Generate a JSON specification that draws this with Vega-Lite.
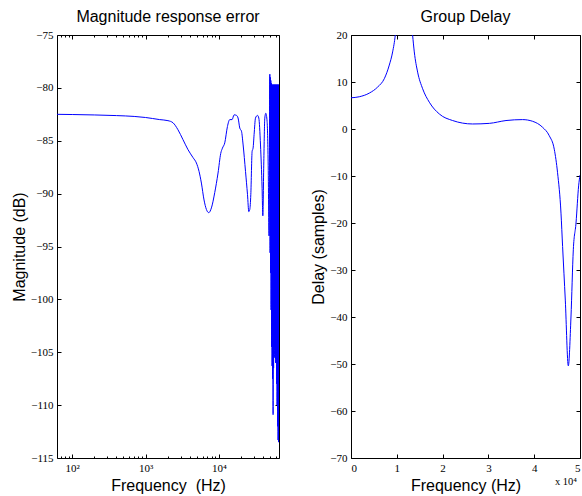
{
  "$schema": "https://vega.github.io/schema/vega-lite/v6.json",
  "padding": {"left": 10, "top": 8, "right": 0, "bottom": 0},
  "spacing": 30,
  "config": {
    "view": {"stroke": "#000000", "strokeWidth": 1},
    "title": {"font": "Liberation Sans", "fontSize": 16, "fontWeight": "normal", "color": "#000000", "offset": 4},
    "axis": {
      "domain": false, "grid": false,
      "labelFont": "Liberation Serif", "labelFontSize": 11, "labelColor": "#000000",
      "titleFont": "Liberation Sans", "titleFontSize": 16, "titleFontWeight": "normal", "titleColor": "#000000",
      "tickColor": "#000000", "tickWidth": 1, "tickSize": -4, "labelPadding": 8
    }
  },
  "datasets": {
    "mag": [
      {"f": 62, "db": -82.5}, {"f": 100, "db": -82.52}, {"f": 200, "db": -82.56}, {"f": 400, "db": -82.62},
      {"f": 700, "db": -82.7}, {"f": 1000, "db": -82.8}, {"f": 1560, "db": -83.0}, {"f": 2023, "db": -83.1},
      {"f": 2370, "db": -83.3}, {"f": 2770, "db": -83.96}, {"f": 3245, "db": -84.9}, {"f": 3800, "db": -85.85},
      {"f": 4450, "db": -86.6}, {"f": 4940, "db": -87.1}, {"f": 5370, "db": -87.9}, {"f": 5780, "db": -89.0},
      {"f": 6280, "db": -90.6}, {"f": 6770, "db": -91.5}, {"f": 7280, "db": -91.8}, {"f": 7920, "db": -91.35},
      {"f": 8790, "db": -89.9}, {"f": 9750, "db": -88.05}, {"f": 10610, "db": -86.2}, {"f": 11190, "db": -85.7},
      {"f": 12040, "db": -85.2}, {"f": 13100, "db": -83.65}, {"f": 14090, "db": -83.0}, {"f": 15150, "db": -83.0},
      {"f": 16140, "db": -82.55}, {"f": 17380, "db": -82.6}, {"f": 18290, "db": -82.85}, {"f": 19300, "db": -83.8},
      {"f": 20360, "db": -84.1}, {"f": 21440, "db": -85.4}, {"f": 23110, "db": -87.9}, {"f": 24600, "db": -90.1},
      {"f": 25630, "db": -91.7}, {"f": 26430, "db": -91.5}, {"f": 27290, "db": -90.1}, {"f": 28440, "db": -86.0},
      {"f": 29310, "db": -85.7}, {"f": 30270, "db": -84.4}, {"f": 31620, "db": -82.85}, {"f": 33650, "db": -82.6},
      {"f": 35070, "db": -82.85}, {"f": 37000, "db": -85.4}, {"f": 38900, "db": -89.5}, {"f": 39810, "db": -92.1},
      {"f": 41040, "db": -87.0}, {"f": 42360, "db": -82.85}, {"f": 43720, "db": -82.4}, {"f": 45550, "db": -83.2},
      {"f": 47030, "db": -87.0}, {"f": 48400, "db": -94.0},
      {"f": 49600, "db": -78.7}, {"f": 49990, "db": -95.6}, {"f": 50390, "db": -79.0}, {"f": 50790, "db": -97.5},
      {"f": 51180, "db": -79.3}, {"f": 51590, "db": -101.0}, {"f": 52000, "db": -79.55}, {"f": 52410, "db": -104.5},
      {"f": 52810, "db": -79.7}, {"f": 53230, "db": -106.3}, {"f": 53650, "db": -79.7}, {"f": 54080, "db": -107.5},
      {"f": 54510, "db": -79.7}, {"f": 54940, "db": -110.9}, {"f": 55380, "db": -79.7}, {"f": 55810, "db": -106.5},
      {"f": 56250, "db": -79.7}, {"f": 56700, "db": -104.5}, {"f": 57150, "db": -79.7}, {"f": 57600, "db": -105.5},
      {"f": 58040, "db": -79.7}, {"f": 58500, "db": -104.4}, {"f": 58970, "db": -79.7}, {"f": 59430, "db": -106.0},
      {"f": 59890, "db": -79.7}, {"f": 60370, "db": -105.0}, {"f": 60850, "db": -79.7}, {"f": 61330, "db": -108.0},
      {"f": 61800, "db": -79.7}, {"f": 62290, "db": -110.0}, {"f": 62780, "db": -79.7}, {"f": 63270, "db": -112.0},
      {"f": 63770, "db": -79.7}, {"f": 64270, "db": -113.3}, {"f": 64770, "db": -79.7}, {"f": 65280, "db": -113.5},
      {"f": 65800, "db": -79.7}, {"f": 66320, "db": -113.0}
    ],
    "gd": [
      {"f": 0, "d": 6.64}, {"f": 1810, "d": 6.86}, {"f": 4000, "d": 7.64}, {"f": 5820, "d": 8.93},
      {"f": 7270, "d": 10.7}, {"f": 8360, "d": 13.6}, {"f": 9090, "d": 16.4}, {"f": 9670, "d": 20},
      {"f": 10200, "d": 26}, {"f": 10800, "d": 36}, {"f": 11400, "d": 45}, {"f": 12000, "d": 40},
      {"f": 12600, "d": 30}, {"f": 13100, "d": 24}, {"f": 13450, "d": 20}, {"f": 13820, "d": 16.4},
      {"f": 14550, "d": 12.1}, {"f": 15640, "d": 8.57}, {"f": 17100, "d": 5.7}, {"f": 19280, "d": 3.2},
      {"f": 22190, "d": 1.8}, {"f": 26550, "d": 1.07}, {"f": 30200, "d": 1.2}, {"f": 33840, "d": 1.8},
      {"f": 37470, "d": 2.0}, {"f": 39650, "d": 1.64}, {"f": 41830, "d": 0.36}, {"f": 43290, "d": -1.43},
      {"f": 44380, "d": -4.3}, {"f": 45100, "d": -9.3}, {"f": 45850, "d": -17.9}, {"f": 46200, "d": -25},
      {"f": 46790, "d": -36.4}, {"f": 47450, "d": -50.4}, {"f": 48030, "d": -40}, {"f": 48540, "d": -25.7},
      {"f": 49130, "d": -20}, {"f": 49700, "d": -12.1}, {"f": 50000, "d": -9.8}
    ],
    "note": [{"t": "x 10⁴"}]
  },
  "hconcat": [
    {
      "width": 222, "height": 423,
      "title": {"text": "Magnitude response error"},
      "data": {"name": "mag"},
      "layer": [
        {
          "mark": {"type": "line", "color": "#0000ff", "strokeWidth": 1, "clip": true, "interpolate": "monotone"},
          "encoding": {
            "x": {"field": "f", "type": "quantitative",
              "scale": {"type": "log", "domain": [62, 66150], "nice": false},
              "axis": {"orient": "bottom", "title": "Frequency \u00a0(Hz)",
                "values": [70, 80, 90, 100, 200, 300, 400, 500, 600, 700, 800, 900, 1000, 2000, 3000, 4000, 5000, 6000, 7000, 8000, 9000, 10000, 20000, 30000, 40000, 50000, 60000],
                "labelExpr": "datum.value == 100 ? '10²' : datum.value == 1000 ? '10³' : datum.value == 10000 ? '10⁴' : ''",
                "tickSize": {"condition": {"test": "datum.value == 100 || datum.value == 1000 || datum.value == 10000", "value": -4}, "value": -2}}},
            "y": {"field": "db", "type": "quantitative",
              "scale": {"domain": [-115, -75], "nice": false, "zero": false},
              "axis": {"orient": "left", "title": "Magnitude (dB)", "values": [-115, -110, -105, -100, -95, -90, -85, -80, -75], "titlePadding": 3}}
          }
        },
        {
          "mark": {"type": "line", "opacity": 0, "clip": true},
          "encoding": {
            "x": {"field": "f", "type": "quantitative",
              "axis": {"orient": "top", "title": null, "labels": false,
                "values": [70, 80, 90, 100, 200, 300, 400, 500, 600, 700, 800, 900, 1000, 2000, 3000, 4000, 5000, 6000, 7000, 8000, 9000, 10000, 20000, 30000, 40000, 50000, 60000],
                "tickSize": {"condition": {"test": "datum.value == 100 || datum.value == 1000 || datum.value == 10000", "value": -4}, "value": -2}}},
            "y": {"field": "db", "type": "quantitative",
              "axis": {"orient": "right", "title": null, "labels": false, "values": [-115, -110, -105, -100, -95, -90, -85, -80, -75]}}
          }
        }
      ],
      "resolve": {"axis": {"x": "independent", "y": "independent"}}
    },
    {
      "width": 229, "height": 423,
      "title": {"text": "Group Delay"},
      "layer": [
        {
          "data": {"name": "gd"},
          "mark": {"type": "line", "color": "#0000ff", "strokeWidth": 1, "clip": true, "interpolate": "monotone"},
          "encoding": {
            "x": {"field": "f", "type": "quantitative",
              "scale": {"domain": [0, 50000], "nice": false},
              "axis": {"orient": "bottom", "title": "Frequency (Hz)", "values": [0, 10000, 20000, 30000, 40000, 50000],
                "labelExpr": "format(datum.value / 10000, 'd')"}},
            "y": {"field": "d", "type": "quantitative",
              "scale": {"domain": [-70, 20], "nice": false, "zero": false},
              "axis": {"orient": "left", "title": "Delay (samples)", "values": [-70, -60, -50, -40, -30, -20, -10, 0, 10, 20], "titlePadding": 3}}
          }
        },
        {
          "data": {"name": "gd"},
          "mark": {"type": "line", "opacity": 0, "clip": true},
          "encoding": {
            "x": {"field": "f", "type": "quantitative",
              "axis": {"orient": "top", "title": null, "labels": false, "values": [0, 10000, 20000, 30000, 40000, 50000]}},
            "y": {"field": "d", "type": "quantitative",
              "axis": {"orient": "right", "title": null, "labels": false, "values": [-70, -60, -50, -40, -30, -20, -10, 0, 10, 20]}}
          }
        },
        {
          "data": {"name": "note"},
          "mark": {"type": "text", "font": "Liberation Serif", "fontSize": 10.5, "align": "right", "baseline": "top", "dy": 19, "dx": -3, "color": "#000000"},
          "encoding": {
            "x": {"datum": 50000, "type": "quantitative", "axis": null},
            "y": {"datum": -70, "type": "quantitative", "axis": null},
            "text": {"field": "t"}
          }
        }
      ],
      "resolve": {"axis": {"x": "independent", "y": "independent"}}
    }
  ]
}
